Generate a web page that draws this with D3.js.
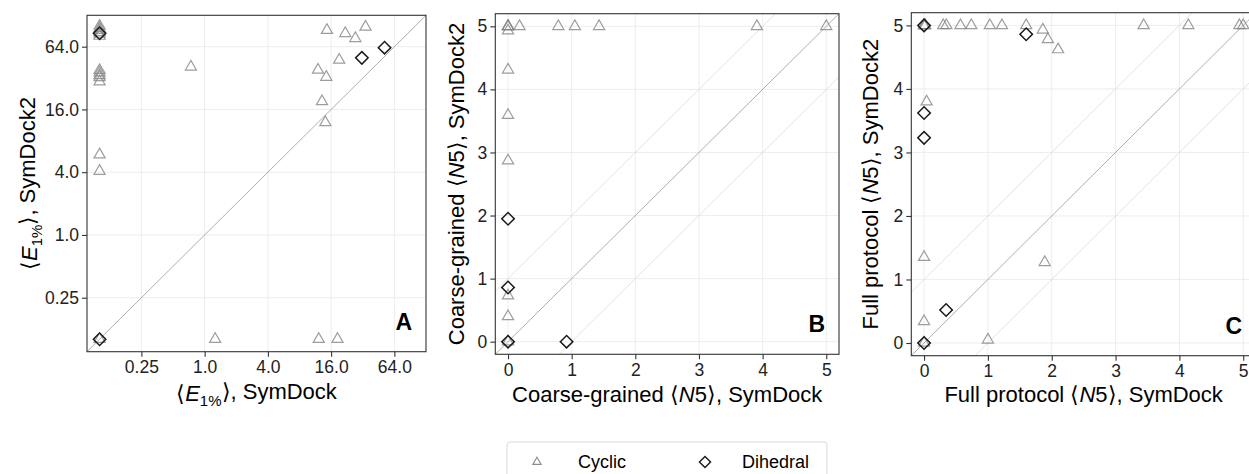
<!DOCTYPE html>
<html>
<head>
<meta charset="utf-8">
<script src="https://cdn.jsdelivr.net/npm/d3@7"></script>
<style>
  body { margin: 0; background: #fff; }
  text { font-family: "Liberation Sans", Arial, sans-serif; }
</style>
</head>
<body>
<script>
// values: [SymDock, SymDock2]
var energyCyclic = [
  [0.1, 101], [0.1, 96], [0.1, 92], [0.1, 88], [0.1, 85], [0.1, 81],
  [0.1, 38], [0.1, 36], [0.1, 34], [0.1, 32.5], [0.1, 29.5],
  [0.1, 5.9], [0.1, 4.1], [0.1, 0.1],
  [0.74, 41], [1.26, 0.1], [12.2, 0.1], [18.4, 0.1],
  [14.6, 92], [21.8, 86], [27.2, 77], [34, 99], [19.1, 47.8],
  [12, 38.3], [14.4, 32.7], [13.1, 19.1], [14.1, 12]
];
var energyDihedral = [[31.4, 50], [51.6, 62.6], [0.1, 86], [0.1, 0.1]];

var coarseCyclic = [
  [0, 5], [0, 5], [0, 5], [0, 4.93], [0.18, 5], [0.79, 5], [1.05, 5],
  [1.43, 5], [3.91, 5], [5, 5], [0, 4.31], [0, 3.59], [0, 2.87],
  [0, 0.73], [0, 0.40], [0, 0]
];
var coarseDihedral = [[0, 1.95], [0, 0.86], [0, 0], [0.92, 0]];

var fullCyclic = [
  [0, 5], [0, 5], [0.02, 5], [0.30, 5], [0.35, 5], [0.57, 5], [0.74, 5],
  [1.03, 5], [1.22, 5], [1.60, 5], [3.44, 5], [4.14, 5], [4.94, 5], [5, 5],
  [1.86, 4.93], [1.94, 4.78], [2.10, 4.62], [0.04, 3.80], [0, 1.35],
  [1.89, 1.27], [0, 0.34], [1.0, 0.05], [0, 0]
];
var fullDihedral = [[0, 5], [1.60, 4.86], [0, 3.62], [0, 3.23], [0.345, 0.52], [0, 0]];

var energyTicks = [0.25, 1, 4, 16, 64];
var countTicks = [0, 1, 2, 3, 4, 5];
var legendLabels = ["Cyclic", "Dihedral"];

var width = 1249;
var height = 474;

var svg = d3.select("body").append("svg")
    .attr("width", width)
    .attr("height", height);

var panels = [
  { label: "A", left: 87, top: 15.3, w: 339, h: 336.4, log: true,
    domain: [Math.pow(2, -3.72), Math.pow(2, 7.0)], ticks: energyTicks,
    fmt: function(d) { return d < 1 ? d.toFixed(2) : d.toFixed(1); },
    cyc: energyCyclic, dih: energyDihedral, diag: [0],
    xTitle: "SymDock", yTitle: "SymDock2", prefix: null,
    yTitleX: 37, xTitleY: 401 },
  { label: "B", left: 495.3, top: 13.7, w: 343.7, h: 340.6, log: false,
    domain: [-0.2, 5.2], ticks: countTicks, fmt: d3.format("d"),
    cyc: coarseCyclic, dih: coarseDihedral, diag: [-1, 0, 1],
    xTitle: "SymDock", yTitle: "SymDock2", prefix: "Coarse-grained ",
    yTitleX: 464, xTitleY: 402 },
  { label: "C", left: 911.3, top: 12.7, w: 344.7, h: 343, log: false,
    domain: [-0.2, 5.2], ticks: countTicks, fmt: d3.format("d"),
    cyc: fullCyclic, dih: fullDihedral, diag: [-1, 0, 1],
    xTitle: "SymDock", yTitle: "SymDock2", prefix: "Full protocol ",
    yTitleX: 878, xTitleY: 402 }
];

var tri = d3.symbol().type(d3.symbolTriangle).size(54);
var sq = d3.symbol().type(d3.symbolSquare).size(78);

// writes  <E_1%>, name  or  prefix <N5>, name  into a text element
function axisTitle(sel, p, name) {
  if (p.log) {
    sel.append("tspan").text("\u27E8");
    sel.append("tspan").style("font-style", "italic").text("E");
    sel.append("tspan").attr("dy", "0.3em").style("font-size", "15px").text("1%");
    sel.append("tspan").attr("dy", "-0.3em").text("\u27E9, " + name);
  } else {
    sel.append("tspan").text(p.prefix + "\u27E8");
    sel.append("tspan").style("font-style", "italic").text("N");
    sel.append("tspan").text("5\u27E9, " + name);
  }
}

panels.forEach(function(p, i) {
  var x = (p.log ? d3.scaleLog().base(2) : d3.scaleLinear())
      .domain(p.domain).range([p.left, p.left + p.w]);
  var y = (p.log ? d3.scaleLog().base(2) : d3.scaleLinear())
      .domain(p.domain).range([p.top + p.h, p.top]);

  var g = svg.append("g");

  svg.append("clipPath").attr("id", "clip" + i)
    .append("rect")
      .attr("x", p.left).attr("y", p.top)
      .attr("width", p.w).attr("height", p.h);

  // grid
  g.selectAll(".gx").data(p.ticks).enter().append("line")
      .attr("x1", function(d) { return x(d); })
      .attr("x2", function(d) { return x(d); })
      .attr("y1", p.top).attr("y2", p.top + p.h)
      .attr("stroke", "#ebebeb").attr("stroke-width", 0.9);
  g.selectAll(".gy").data(p.ticks).enter().append("line")
      .attr("y1", function(d) { return y(d); })
      .attr("y2", function(d) { return y(d); })
      .attr("x1", p.left).attr("x2", p.left + p.w)
      .attr("stroke", "#ebebeb").attr("stroke-width", 0.9);

  // reference lines y = x (+/- 1)
  var lo = p.domain[0], hi = p.domain[1];
  g.append("g").attr("clip-path", "url(#clip" + i + ")")
    .selectAll("line").data(p.diag).enter().append("line")
      .attr("x1", function(k) { return x(lo); })
      .attr("y1", function(k) { return y(lo + k); })
      .attr("x2", function(k) { return x(hi); })
      .attr("y2", function(k) { return y(hi + k); })
      .attr("stroke", function(k) { return k === 0 ? "#8c8c8c" : "#d0d0d0"; })
      .attr("stroke-width", function(k) { return k === 0 ? 0.7 : 0.6; });

  // points
  var pts = g.append("g").attr("clip-path", "url(#clip" + i + ")");
  pts.selectAll(".cyc").data(p.cyc).enter().append("path")
      .attr("d", tri)
      .attr("transform", function(d) { return "translate(" + x(d[0]) + "," + y(d[1]) + ")"; })
      .attr("fill", "none")
      .attr("stroke", "#858585")
      .attr("stroke-opacity", 0.8)
      .attr("stroke-width", 1.2);
  pts.selectAll(".dih").data(p.dih).enter().append("path")
      .attr("d", sq)
      .attr("transform", function(d) { return "translate(" + x(d[0]) + "," + y(d[1]) + ") rotate(45)"; })
      .attr("fill", "none")
      .attr("stroke", "#1a1a1a")
      .attr("stroke-width", 1.5);

  // border
  g.append("rect")
      .attr("x", p.left).attr("y", p.top)
      .attr("width", p.w).attr("height", p.h)
      .attr("fill", "none").attr("stroke", "#333").attr("stroke-width", 1.1);

  // axes
  var xAxis = d3.axisBottom(x).tickValues(p.ticks).tickFormat(p.fmt).tickSize(5).tickPadding(4);
  var yAxis = d3.axisLeft(y).tickValues(p.ticks).tickFormat(p.fmt).tickSize(5).tickPadding(3);
  var ax = svg.append("g").attr("transform", "translate(0," + (p.top + p.h) + ")").call(xAxis);
  var ay = svg.append("g").attr("transform", "translate(" + p.left + ",0)").call(yAxis);
  [ax, ay].forEach(function(a) {
    a.select(".domain").remove();
    a.selectAll(".tick line").attr("stroke", "#333").attr("stroke-width", 1.1);
    a.selectAll(".tick text")
        .attr("fill", "#222")
        .style("font-size", "17.5px")
        .style("font-family", "'Liberation Sans', Arial, sans-serif");
  });

  // titles
  var xt = svg.append("text")
      .attr("x", p.left + p.w / 2 > width ? width : p.left + p.w / 2)
      .attr("y", p.xTitleY)
      .attr("text-anchor", "middle")
      .style("font-size", "22px")
      .attr("fill", "#000");
  axisTitle(xt, p, p.xTitle);

  var yt = svg.append("text")
      .attr("transform", "translate(" + p.yTitleX + "," + (p.top + p.h / 2) + ") rotate(-90)")
      .attr("text-anchor", "middle")
      .style("font-size", "22px")
      .attr("fill", "#000");
  axisTitle(yt, p, p.yTitle);

  // panel letter
  svg.append("text")
      .attr("x", p.left + p.w - 14)
      .attr("y", p.top + p.h - 22)
      .attr("text-anchor", "end")
      .style("font-size", "23px")
      .style("font-weight", "bold")
      .text(p.label);
});

// legend
var lg = svg.append("g");
lg.append("rect")
    .attr("x", 507).attr("y", 442)
    .attr("width", 320).attr("height", 50)
    .attr("rx", 3)
    .attr("fill", "#fff")
    .attr("stroke", "#d9d9d9")
    .attr("stroke-width", 1);
lg.append("path")
    .attr("d", d3.symbol().type(d3.symbolTriangle).size(30))
    .attr("transform", "translate(537,462)")
    .attr("fill", "none").attr("stroke", "#8c8c8c").attr("stroke-width", 1.1);
lg.append("path")
    .attr("d", d3.symbol().type(d3.symbolSquare).size(62))
    .attr("transform", "translate(705,462) rotate(45)")
    .attr("fill", "none").attr("stroke", "#1a1a1a").attr("stroke-width", 1.4);
lg.selectAll("text").data(legendLabels).enter().append("text")
    .attr("x", function(d, i) { return i === 0 ? 578 : 742; })
    .attr("y", 468)
    .style("font-size", "18px")
    .text(function(d) { return d; });
</script>
</body>
</html>
